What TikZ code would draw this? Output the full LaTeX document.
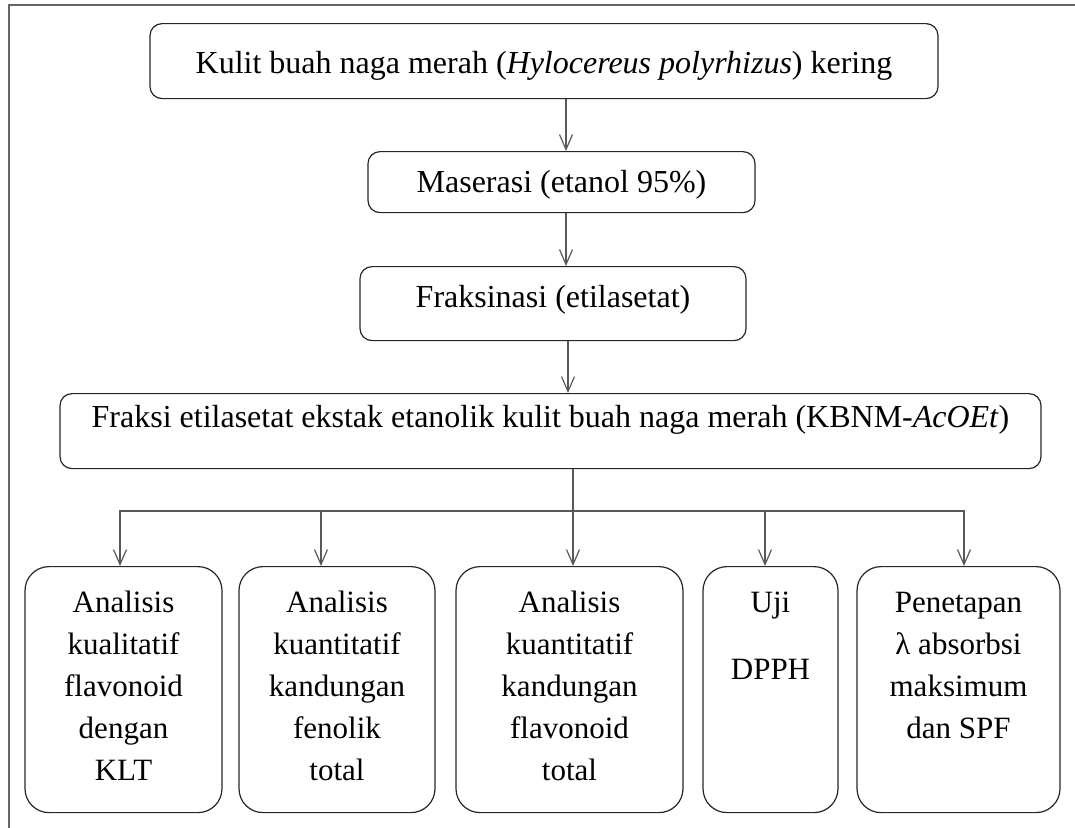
\documentclass[tikz,border=0pt]{standalone}
\usepackage{fontspec}
\setmainfont{Liberation Serif}
\usetikzlibrary{arrows.meta}

% isi kotak analisis: tinggi tetap, teks mulai dari atas
\newcommand{\isianalisis}[2]{\parbox[t][123pt][t]{#1}{\centering\rule{0pt}{23pt}#2}}

\begin{document}
\begin{tikzpicture}[x=0.5pt,y=-0.5pt,
  langkah/.style={draw=black!85,line width=0.6pt,rounded corners=6pt,anchor=north,inner sep=0pt,font=\fontsize{16}{19}\selectfont},
  analisis/.style={draw=black!85,line width=0.6pt,rounded corners=12pt,anchor=north,inner sep=0pt,font=\fontsize{15.5}{21}\selectfont},
  garis/.style={draw=black!65,line width=0.6pt},
  panah/.style={garis,-{Straight Barb[length=7.5pt,width=6.5pt]}}]

  \useasboundingbox (0,0) rectangle (1075,827);

  % bingkai luar
  \draw[black!60,line width=1pt] (9,840) -- (9,5) -- (1090,5);

  \node [langkah,minimum width=394pt,text height=25pt,text depth=12.5pt] at (544,23) (kulit) {Kulit buah naga merah (\textit{Hylocereus polyrhizus}) kering};
  \node [langkah,minimum width=193.5pt,text height=20.5pt,text depth=10pt] at (561.5,151) (maserasi) {Maserasi (etanol 95\%)};
  \node [langkah,minimum width=193pt,text height=20.5pt,text depth=16.5pt] at (553,266) (fraksinasi) {Fraksinasi (etilasetat)};
  \node [langkah,minimum width=490.5pt,text height=17pt,text depth=20.5pt] at (550.5,393) (fraksi) {Fraksi etilasetat ekstak etanolik kulit buah naga merah (KBNM-\textit{AcOEt})};

  \node [analisis] at (123.5,566) (klt) {\isianalisis{98.5pt}{Analisis\\kualitatif\\flavonoid\\dengan\\KLT}};
  \node [analisis] at (337,566) (fenolik) {\isianalisis{98pt}{Analisis\\kuantitatif\\kandungan\\fenolik\\total}};
  \node [analisis] at (569.5,566) (flavonoid) {\isianalisis{113.5pt}{Analisis\\kuantitatif\\kandungan\\flavonoid\\total}};
  \node [analisis] at (770.5,566) (dpph) {\isianalisis{67.5pt}{Uji\\[12.5pt]DPPH}};
  \node [analisis] at (958.5,566) (spf) {\isianalisis{101.5pt}{Penetapan\\λ absorbsi\\maksimum\\dan SPF}};

  % alur utama
  \coordinate (jalur) at (566,0);
  \coordinate (jalur2) at (568,0);
  \coordinate (cabang) at (573,511);
  \draw [panah] (kulit.south -| jalur) -- (maserasi.north -| jalur);
  \draw [panah] (maserasi.south -| jalur) -- (fraksinasi.north -| jalur);
  \draw [panah] (fraksinasi.south -| jalur2) -- (fraksi.north -| jalur2);
  \draw [garis] (fraksi.south -| cabang) -- (cabang);

  % cabang ke kotak analisis
  \foreach \kotak/\xx in {klt/120,fenolik/321,flavonoid/573,dpph/765,spf/964}
    \draw [panah] (cabang) -| (\kotak.north -| \xx,0);

\end{tikzpicture}
\end{document}
